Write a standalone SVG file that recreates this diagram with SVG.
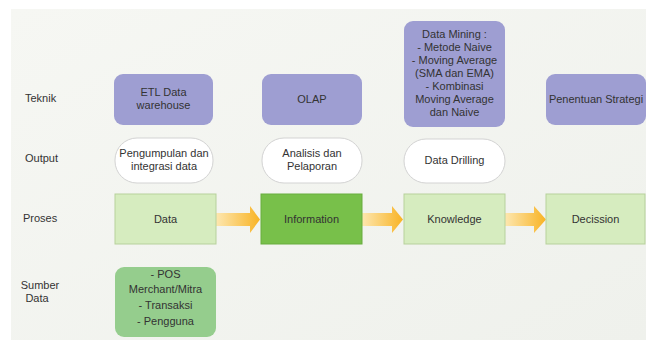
<svg xmlns="http://www.w3.org/2000/svg" width="646" height="340" viewBox="0 0 646 340">
<defs>
<linearGradient id="bg" x1="0" y1="0" x2="1" y2="1">
<stop offset="0" stop-color="#f6f7f3"/>
<stop offset="1" stop-color="#eff1ec"/>
</linearGradient>
<linearGradient id="arr" x1="0" y1="0" x2="1" y2="0">
<stop offset="0" stop-color="#fde7b0"/>
<stop offset="1" stop-color="#f8b324"/>
</linearGradient>
<style>
text{font-family:"Liberation Sans",Arial,sans-serif;font-size:11px;fill:#333;}
.c{text-anchor:middle;}
.tek{fill:#9e9ed2;}
.out{fill:#ffffff;stroke:#d3d3d3;stroke-width:1;}
.pro{fill:#d6ecbf;stroke:#b7d19c;stroke-width:1;}
.inf{fill:#78c04a;stroke:#68ad3e;stroke-width:1;}
.src{fill:#95cd8d;}
.ar{fill:url(#arr);}
</style>
</defs>
<rect x="0" y="0" width="646" height="340" fill="#ffffff"/>
<rect x="11" y="9" width="635" height="331" fill="url(#bg)"/>

<g id="labels">
<text x="25" y="102">Teknik</text>
<text x="25" y="162">Output</text>
<text x="23" y="222">Proses</text>
<text class="c" x="40" y="289">Sumber</text>
<text class="c" x="37" y="302">Data</text>
</g>

<g id="connectors">
<path class="ar" d="M216,213 H250 V206 L260,219.5 L250,233 V226 H216 Z"/>
<path class="ar" d="M362,213 H392 V206 L403,219.5 L392,233 V226 H362 Z"/>
<path class="ar" d="M505,213 H534 V206 L546,219.5 L534,233 V226 H505 Z"/>
</g>

<g id="etl">
<rect class="tek" x="114" y="74" width="99" height="51" rx="9"/>
<text class="c" x="163.5" y="96">ETL Data</text>
<text class="c" x="163.5" y="109">warehouse</text>
</g>
<g id="olap">
<rect class="tek" x="262" y="74" width="100" height="51" rx="9"/>
<text class="c" x="312" y="103">OLAP</text>
</g>
<g id="datamining">
<rect class="tek" x="404" y="21" width="101" height="106" rx="9"/>
<text class="c" x="454.5" y="38">Data Mining :</text>
<text class="c" x="454.5" y="51">- Metode Naive</text>
<text class="c" x="454.5" y="64">- Moving Average</text>
<text class="c" x="454.5" y="77">(SMA dan EMA)</text>
<text class="c" x="454.5" y="90">- Kombinasi</text>
<text class="c" x="454.5" y="103">Moving Average</text>
<text class="c" x="454.5" y="116">dan Naive</text>
</g>
<g id="strategi">
<rect class="tek" x="546" y="74" width="100" height="51" rx="9"/>
<text class="c" x="596" y="103">Penentuan Strategi</text>
</g>

<g id="pengumpulan">
<rect class="out" x="115" y="138" width="98" height="45" rx="22"/>
<text class="c" x="164" y="157">Pengumpulan dan</text>
<text class="c" x="164" y="170">integrasi data</text>
</g>
<g id="analisis">
<rect class="out" x="262" y="138" width="100" height="45" rx="22"/>
<text class="c" x="312" y="157">Analisis dan</text>
<text class="c" x="312" y="170">Pelaporan</text>
</g>
<g id="drilling">
<rect class="out" x="404" y="139" width="101" height="44" rx="22"/>
<text class="c" x="454.5" y="164">Data Drilling</text>
</g>

<g id="data">
<rect class="pro" x="115" y="194" width="101" height="50"/>
<text class="c" x="165.5" y="223">Data</text>
</g>
<g id="information">
<rect class="inf" x="261" y="194" width="101" height="50"/>
<text class="c" x="311.5" y="223">Information</text>
</g>
<g id="knowledge">
<rect class="pro" x="404" y="194" width="101" height="50"/>
<text class="c" x="454.5" y="223">Knowledge</text>
</g>
<g id="decission">
<rect class="pro" x="546" y="194" width="99" height="50"/>
<text class="c" x="595.5" y="223">Decission</text>
</g>

<g id="sumber">
<rect class="src" x="115" y="267" width="101" height="70" rx="9"/>
<text class="c" x="165.5" y="278">- POS</text>
<text class="c" x="165.5" y="293">Merchant/Mitra</text>
<text class="c" x="165.5" y="309">- Transaksi</text>
<text class="c" x="165.5" y="325">- Pengguna</text>
</g>
</svg>
